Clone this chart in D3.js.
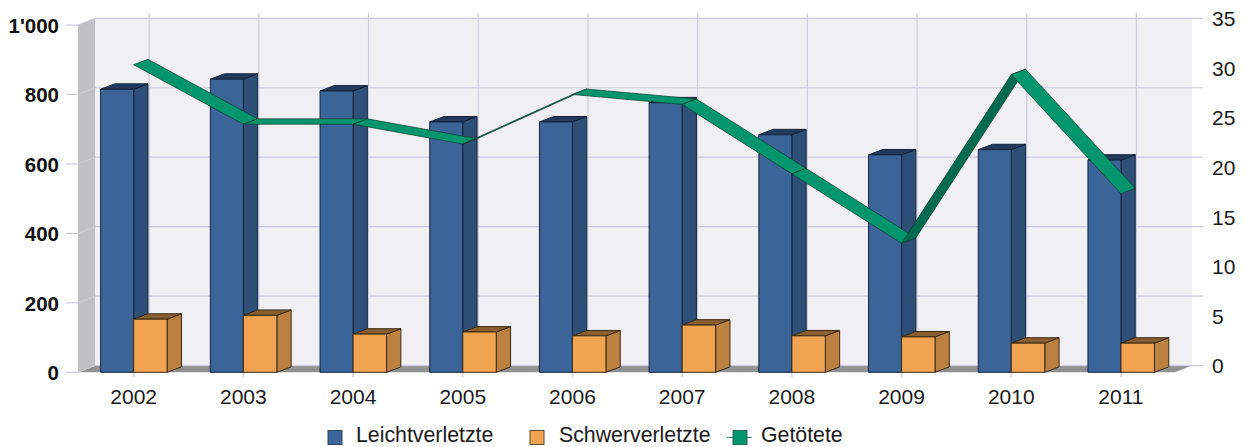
<!DOCTYPE html>
<html><head><meta charset="utf-8">
<script src="https://cdn.jsdelivr.net/npm/d3@7/dist/d3.min.js"></script>
<style>html,body{margin:0;padding:0;background:#fff}svg{display:block}text{font-family:"Liberation Sans",Arial,sans-serif}</style>
</head><body><svg id="c" width="1247" height="447"></svg>
<script>
const years=[2002,2003,2004,2005,2006,2007,2008,2009,2010,2011];
const leicht=[815,844,810,721,721,776,684,626,641,611];
const schwer=[153,164,110,116,105,136,105,102,84,84];
const getoetet=[31,25,25,23,28,27,20,13,30,18];
const leftTicks=[0,200,400,600,800,1000];
const rightTicks=[0,5,10,15,20,25,30,35];
const seriesNames=["Leichtverletzte","Schwerverletzte","Getötete"];

const svg=d3.select("#c");
const W={l:78,r:1175,t:25,b:372.3,dx:17,dy:6.7};
const x=d3.scaleBand().domain(years).range([W.l+0.8,W.r+0.8]);
const y=d3.scaleLinear().domain([0,1000]).range([W.b,W.t]);
const yR=d3.scaleLinear().domain([0,35]).range([W.b,W.t]);
const cx=d=>x(d)+x.bandwidth()/2;
const fmt=d3.formatLocale({decimal:".",thousands:"'",grouping:[3],currency:["",""]}).format(",");
const poly=(g,pts,fill,stroke,sw)=>g.append("polygon").attr("points",pts.map(p=>p.join(",")).join(" ")).attr("fill",fill).attr("stroke",stroke||"none").attr("stroke-width",stroke?(sw||1):0).attr("stroke-linejoin","round");
const grid="#cccbdc";

// walls
const g0=svg.append("g");
poly(g0,[[W.l+W.dx,W.t-W.dy],[W.r+W.dx,W.t-W.dy],[W.r+W.dx,W.b-W.dy],[W.l+W.dx,W.b-W.dy]],"#efeff4");
poly(g0,[[W.l,W.t],[W.l+W.dx,W.t-W.dy],[W.l+W.dx,W.b-W.dy],[W.l,W.b]],"#c1c1c3");
poly(g0,[[W.l,W.b],[W.l+W.dx,W.b-W.dy],[W.r+W.dx,W.b-W.dy],[W.r,W.b]],"#919191");
// horizontal grid
leftTicks.forEach(t=>{
  const py=y(t);
  g0.append("path").attr("d",`M66,${py}H${W.l}`).attr("fill","none").attr("stroke",grid).attr("stroke-width",1.2);
  g0.append("path").attr("d",`M${W.l},${py}L${W.l+W.dx},${py-W.dy}`).attr("fill","none").attr("stroke","#cdcdd6").attr("stroke-width",1);
  g0.append("path").attr("d",`M${W.l+W.dx},${py-W.dy}H${W.r+W.dx+11}`).attr("fill","none").attr("stroke",grid).attr("stroke-width",1.2);
});
// vertical grid
years.forEach(d=>{
  g0.append("line").attr("x1",cx(d)+15.5).attr("x2",cx(d)+15.5).attr("y1",13.5).attr("y2",W.b-W.dy).attr("stroke",grid).attr("stroke-width",1.2);
  g0.append("line").attr("x1",cx(d)).attr("x2",cx(d)).attr("y1",W.b).attr("y2",W.b+5).attr("stroke",grid).attr("stroke-width",1.2);
});

// 3D bars
const depth={x:14.3,y:5.4};
function bar(g,x0,x1,v,c){
  const t=y(v),b=W.b,dx=depth.x,dy=depth.y;
  poly(g,[[x1,t],[x1+dx,t-dy],[x1+dx,b-dy],[x1,b]],c.side,c.line);
  poly(g,[[x0,t],[x0+dx,t-dy],[x1+dx,t-dy],[x1,t]],c.top,c.line);
  poly(g,[[x0,t],[x1,t],[x1,b],[x0,b]],c.front,c.line);
}
const blue={front:"#3b6598",side:"#2e4f78",top:"#213a5e",line:"#14233a"};
const orange={front:"#f0a452",side:"#bc8141",top:"#8a5f30",line:"#3a2a14"};
const gb=svg.append("g");
years.forEach((d,i)=>{
  bar(gb,cx(d)-33,cx(d),leicht[i],blue);
  bar(gb,cx(d),cx(d)+33.5,schwer[i],orange);
});

// ribbon line
const gl=svg.append("g");
years.slice(1).forEach((d,i)=>{
  const a=[cx(years[i]),yR(getoetet[i])],b=[cx(d),yR(getoetet[i+1])];
  const up=b[1]<a[1];
  poly(gl,[a,[a[0]+depth.x,a[1]-depth.y],[b[0]+depth.x,b[1]-depth.y],b],up?"#006b4f":"#00956d","#0d3d30",0.7);
});

// axes
const gL=svg.append("g").attr("transform",`translate(62,0)`).call(d3.axisLeft(y).tickValues(leftTicks).tickFormat(fmt).tickSize(0).tickPadding(0));
gL.select(".domain").remove();
gL.selectAll("text").style("font-size","20.5px").style("font-weight","bold").attr("fill","#111").attr("text-anchor","end").attr("dy","0.35em").attr("x",-3);
const gR=svg.append("g").attr("transform",`translate(1212,${-W.dy})`).call(d3.axisRight(yR).tickValues(rightTicks).tickFormat(d3.format("d")).tickSize(0).tickPadding(0));
gR.select(".domain").remove();
gR.selectAll("text").style("font-size","21px").attr("fill","#1a1a1a").attr("dy","0.35em").attr("x",0);
const gB=svg.append("g").attr("transform",`translate(0,388)`).call(d3.axisBottom(x).tickFormat(d3.format("d")).tickSize(0).tickPadding(0));
gB.select(".domain").remove();
gB.selectAll("text").style("font-size","21px").attr("fill","#1a1a1a").attr("dy","0.76em");

// legend
const leg=[{sx:328,tx:356,c:blue.front,s:"#33455e"},{sx:530,tx:559,c:orange.front,s:"#5a4a30"},{sx:733,tx:761,c:"#00956d",s:"#2a6a55",line:true}];
leg.forEach((l,i)=>{
  if(l.line) svg.append("line").attr("x1",727).attr("x2",752).attr("y1",437.5).attr("y2",437.5).attr("stroke","#3d8a73");
  svg.append("rect").attr("x",l.sx).attr("y",430.5).attr("width",14).attr("height",14).attr("fill",l.c).attr("stroke",l.s);
  svg.append("text").attr("x",l.tx).attr("y",442.4).style("font-size","21.3px").attr("fill","#1a1a1a").text(seriesNames[i]);
});
</script></body></html>
